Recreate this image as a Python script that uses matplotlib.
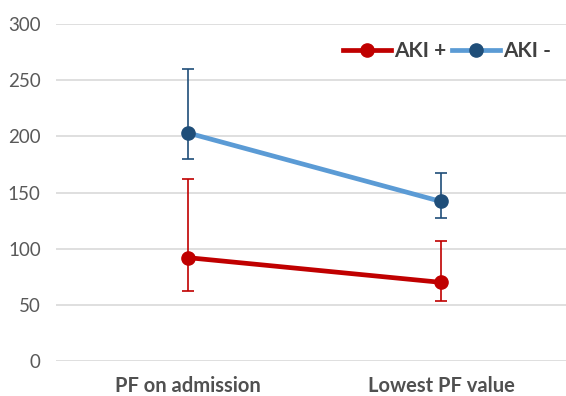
import matplotlib
matplotlib.use("Agg")
import matplotlib.pyplot as plt
from matplotlib.lines import Line2D

categories = ["PF on admission", "Lowest PF value"]
aki_pos = [92, 70]
aki_pos_low = [62, 53]
aki_pos_high = [162, 107]
aki_neg = [203, 142]
aki_neg_low = [180, 127]
aki_neg_high = [260, 167]
yticks = [0, 50, 100, 150, 200, 250, 300]

plt.rcParams['font.family'] = ['Lato', 'DejaVu Sans']

fig = plt.figure(figsize=(5.66, 3.96), dpi=100)
ax = fig.add_axes([56/566, 35/396, 510/566, 337/396])

x = list(range(len(categories)))
red = "#C00000"
lblue = "#5B9BD5"
dblue = "#1F4E79"

def err(vals, lo, hi):
    return [[v - l for v, l in zip(vals, lo)], [h - v for v, h in zip(vals, hi)]]

ax.errorbar(x, aki_pos, yerr=err(aki_pos, aki_pos_low, aki_pos_high), fmt='none',
            ecolor=red, elinewidth=1.2, capsize=4.3, capthick=1.2, zorder=2)
ax.errorbar(x, aki_neg, yerr=err(aki_neg, aki_neg_low, aki_neg_high), fmt='none',
            ecolor=dblue, elinewidth=1.2, capsize=4.3, capthick=1.2, zorder=2)
ax.plot(x, aki_pos, color=red, lw=3.4, marker='o', ms=9.5, mfc=red, mec=red, zorder=3)
ax.plot(x, aki_neg, color=lblue, lw=3.4, marker='o', ms=9.5, mfc=dblue, mec=dblue, zorder=3)

ax.set_xlim(-0.522, 1.494)
ax.set_ylim(0, 300)
ax.set_yticks(yticks)
ax.set_yticklabels([str(t) for t in yticks], color="#595959", fontsize=13.5)
ax.set_xticks(x)
ax.set_xticklabels(categories, fontweight='bold', color="#505050", fontsize=14.5)
ax.tick_params(axis='both', length=0)
ax.tick_params(axis='y', pad=11)
ax.tick_params(axis='x', pad=11)
for s in ax.spines.values():
    s.set_visible(False)
ax.grid(axis='y', color="#D9D9D9", lw=1.2)
ax.set_axisbelow(True)

handles = [Line2D([], [], color=red, lw=3.4, marker='o', ms=9.5, mfc=red, mec=red),
           Line2D([], [], color=lblue, lw=3.4, marker='o', ms=9.5, mfc=dblue, mec=dblue)]
leg = ax.legend(handles, ["AKI +", "AKI -"], loc='upper right', ncol=2, frameon=False,
                bbox_to_anchor=(1.008, 1.005), prop={'weight': 'bold', 'size': 15},
                handlelength=2.3, handletextpad=0.15, columnspacing=0.3)
for t in leg.get_texts():
    t.set_color("#404040")

fig.savefig("out.png", dpi=100)
